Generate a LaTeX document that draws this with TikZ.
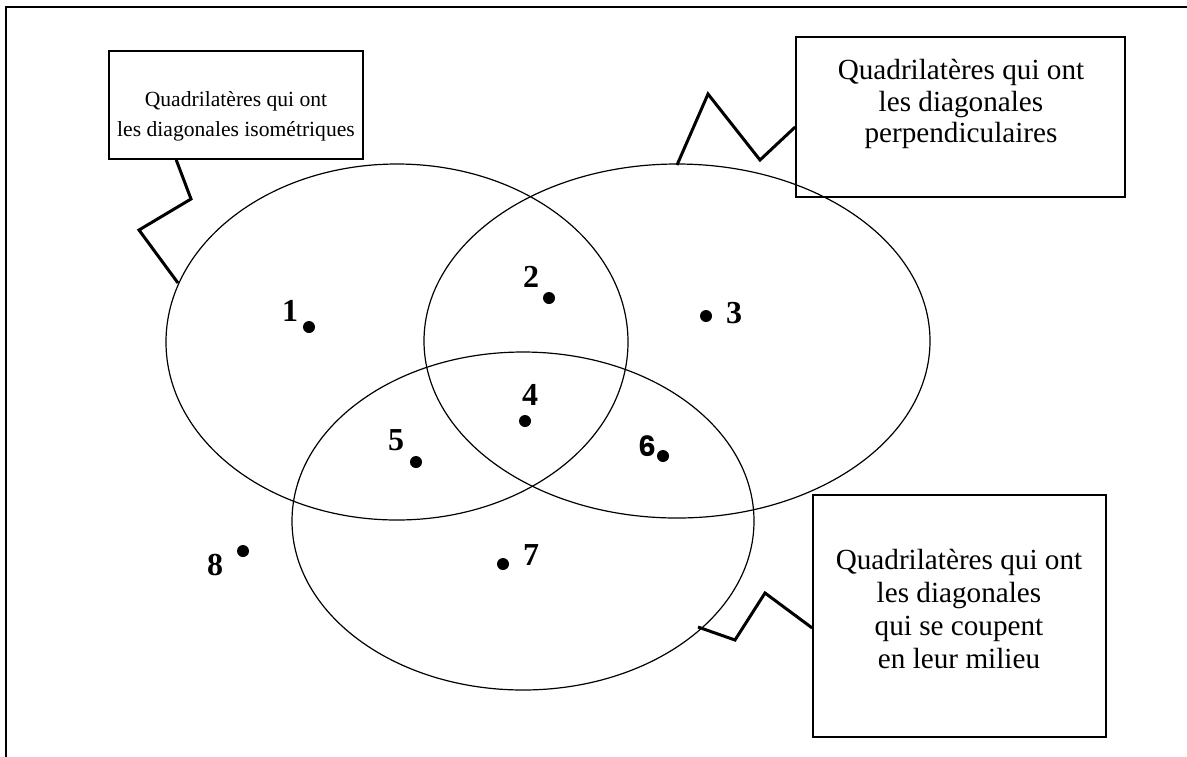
\documentclass[tikz,border=0pt]{standalone}
\usepackage{fontspec}
\setmainfont{Liberation Serif}
\newfontfamily\gothic{Poppins}
\usetikzlibrary{positioning}
\tikzset{
  set/.style ={draw=black,line width=0.6pt},
  blk/.style ={draw=black,line width=0.8pt,inner sep=0pt},
  txt/.style ={inner sep=0pt,align=center,font=\fontsize{14.6}{15.6}\selectfont},
  zz/.style  ={draw=black,line width=1.5pt,line join=miter},
  pt/.style  ={circle,fill=black,inner sep=0pt,minimum size=6pt},
  num/.style ={inner sep=0pt,font=\fontsize{16}{16}\selectfont\bfseries},
}

\begin{document}
\begin{tikzpicture}[x=0.5pt,y=-0.5pt]

\useasboundingbox (0,0) rectangle (1187,756);

%% ================= frame (runs off the page right and below) ===========
\draw[line width=1pt] (1200,7) -- (6,7) -- (6,770);

%% ================= the three sets ======================================
\draw[set] (397,342) ellipse [x radius=231, y radius=178];
\draw[set] (677,341) ellipse [x radius=253, y radius=177];
\draw[set] (523,521) ellipse [x radius=231, y radius=169];

% where the zigzags touch the sets
\coordinate (footA) at (178,283);
\coordinate (footB) at (677,165);
\coordinate (footC) at (698,627);

%% ================= callout boxes =======================================
% box outlines first, their texts are set a little off centre
\node[blk,minimum width=127pt,minimum height=54pt]   (iso)  at (236,105)   {};
\node[blk,minimum width=164.5pt,minimum height=80pt] (perp) at (960.5,117) {};
\node[blk,minimum width=146.5pt,minimum height=121pt](mil)  at (959.5,616) {};

\node[txt,font=\fontsize{10.8}{15}\selectfont] (isoT) at (236,116)
  {Quadrilatères qui ont\\les diagonales isométriques};
\node[txt] (perpT) at (961,104)
  {Quadrilatères qui ont\\les diagonales\\perpendiculaires};
\node[txt,font=\fontsize{14.6}{16.6}\selectfont] (milT) at (959,609)
  {Quadrilatères qui ont\\les diagonales\\qui se coupent\\en leur milieu};

\draw[zz] (iso.south west) ++(68,0) -- (191,199) -- (139,230) -- (footA);
\draw[zz] (footB) -- (708,94) -- (760,160) -- (perp.west |- 0,127);
\draw[zz] (footC) -- (735,640) -- (765,593) -- (mil.west |- 0,628);

%% ================= the quadrilaterals ==================================
\foreach \n/\px/\py/\lx/\ly in {1/309/327/290/311, 2/549/298/531/277,
    3/706/316/734/313, 4/525/421/530/395, 5/416/462/396/440,
    7/503/564/531/555, 8/243/551/215/565}{
  \node[pt] (d\n) at (\px,\py) {};
  \node[num] (n\n) at (\lx,\ly) {\n};}

\node[pt] (d6) at (663,456) {};
\node[num,font=\fontsize{14}{14}\gothic\bfseries] (n6) at (647,446) {6};

\end{tikzpicture}
\end{document}
